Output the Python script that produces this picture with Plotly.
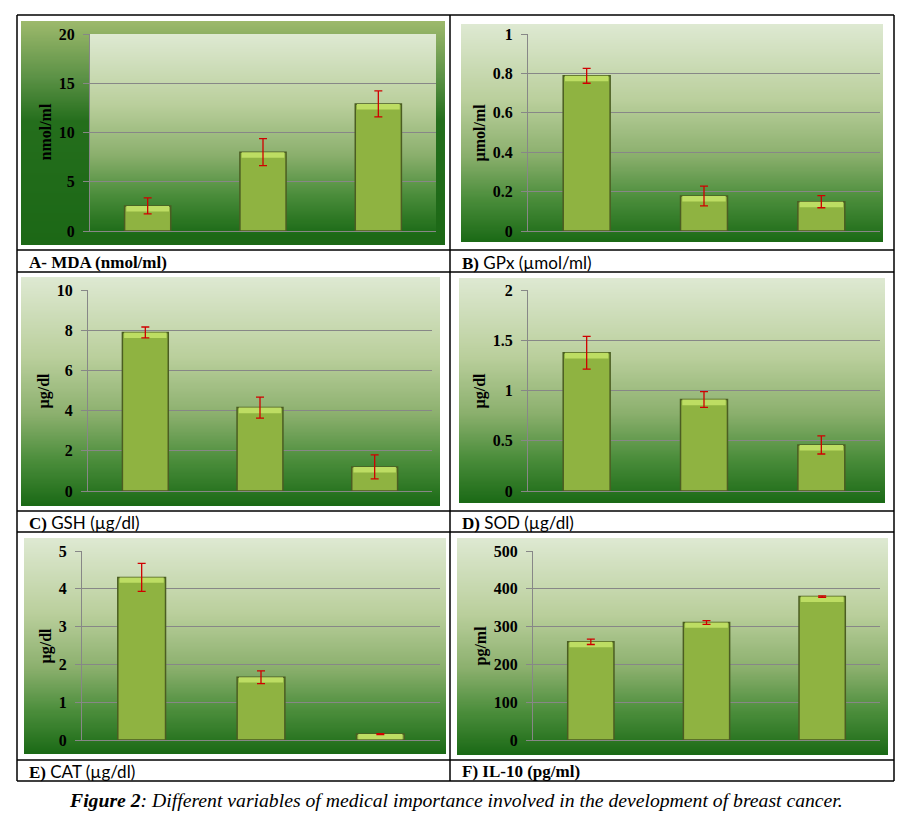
import base64
import struct
import zlib

import plotly.graph_objects as go

# --- data ---
groups = ["G1", "G2", "G3"]

mda = [2.55, 8.0, 12.9]
mda_err = [0.82, 1.37, 1.32]

gpx = [0.788, 0.178, 0.149]
gpx_err = [0.038, 0.05, 0.031]

gsh = [7.89, 4.15, 1.20]
gsh_err = [0.27, 0.52, 0.6]

sod = [1.375, 0.91, 0.458]
sod_err = [0.163, 0.078, 0.09]

cat = [4.30, 1.66, 0.158]
cat_err = [0.37, 0.17, 0.012]

il10 = [259.7, 310.7, 379.4]
il10_err = [7, 5, 2]

units = ["nmol/ml", "µmol/ml", "µg/dl", "µg/dl", "µg/dl", "pg/ml"]

SERIF = "Liberation Serif, Times New Roman, serif"

captions = [
    "<b>A- MDA (nmol/ml)</b>",
    "<b>B)</b> <span style='font-family:Lato'>GPx (µmol/ml)</span>",
    "<b>C)</b> <span style='font-family:Lato'>GSH (µg/dl)</span>",
    "<b>D)</b> <span style='font-family:Lato'>SOD (µg/dl)</span>",
    "<b>E)</b> <span style='font-family:Lato'>CAT (µg/dl)</span>",
    "<b>F) IL-10 (pg/ml)</b>",
]

# the page puts the figure 8px in from the window corner
OFF = 8
W, H = 907 - OFF, 819 - OFF


def px(x):
    return (x - OFF) / W


def py(y):
    return 1 - (y - OFF) / H


def gradient_uri(stops, n=200):
    # vertical gradient as a tiny PNG (top -> bottom)
    rows = []
    for i in range(n):
        t = i / (n - 1)
        for j in range(len(stops) - 1):
            t0, c0 = stops[j]
            t1, c1 = stops[j + 1]
            if t0 <= t <= t1:
                f = (t - t0) / (t1 - t0) if t1 > t0 else 0
                rows.append(tuple(int(round(c0[k] + (c1[k] - c0[k]) * f)) for k in range(3)))
                break
    raw = b"".join(b"\x00" + bytes(c) * 2 for c in rows)

    def chunk(tag, data):
        return struct.pack(">I", len(data)) + tag + data + struct.pack(">I", zlib.crc32(tag + data) & 0xFFFFFFFF)

    png = (b"\x89PNG\r\n\x1a\n"
           + chunk(b"IHDR", struct.pack(">IIBBBBB", 2, n, 8, 2, 0, 0, 0))
           + chunk(b"IDAT", zlib.compress(raw))
           + chunk(b"IEND", b""))
    return "data:image/png;base64," + base64.b64encode(png).decode()


light_grad = gradient_uri([
    (0.0, (222, 233, 210)),
    (0.35, (186, 207, 156)),
    (0.6, (140, 176, 110)),
    (0.8, (76, 142, 60)),
    (1.0, (27, 106, 22)),
])
dark_grad = gradient_uri([
    (0.0, (157, 185, 108)),
    (0.25, (92, 146, 70)),
    (0.45, (36, 110, 28)),
    (1.0, (28, 104, 22)),
])

# panel layout in window pixels: plot box (x0, x1, y0, y1), background box, axis title x, caption
panels = [
    dict(y=mda, err=mda_err, ymax=20, dtick=5, plot=(90, 436, 34, 231), bg=(21, 445, 21, 245), tx=45, cap=(27, 262)),
    dict(y=gpx, err=gpx_err, ymax=1, dtick=0.2, plot=(528, 880, 34, 231), bg=(461, 883, 24, 242), tx=480, cap=(460, 262)),
    dict(y=gsh, err=gsh_err, ymax=10, dtick=2, plot=(88, 432, 290, 491), bg=(21, 440, 277, 506), tx=43, cap=(27, 522)),
    dict(y=sod, err=sod_err, ymax=2, dtick=0.5, plot=(528, 880, 290, 491), bg=(459, 885, 278, 503), tx=479, cap=(460, 522)),
    dict(y=cat, err=cat_err, ymax=5, dtick=1, plot=(82, 440, 551, 740), bg=(24, 446, 538, 754), tx=45, cap=(27, 771)),
    dict(y=il10, err=il10_err, ymax=500, dtick=100, plot=(533, 880, 551, 740), bg=(457, 888, 538, 755), tx=480, cap=(460, 771)),
]

fig = go.Figure()
images = []
annotations = []
shapes = []

for i, p in enumerate(panels):
    n = "" if i == 0 else str(i + 1)
    xa, ya = "x" + n, "y" + n
    vals, errs, ymax = p["y"], p["err"], p["ymax"]

    fig.add_trace(go.Bar(
        x=groups, y=vals, xaxis=xa, yaxis=ya, width=0.4,
        marker=dict(color="#8fb341", line=dict(color="#4b5d22", width=1.5)),
        showlegend=False, hoverinfo="skip",
    ))
    # lighter bevel on top of each bar
    cap_h = 0.028 * ymax
    cap_base = [max(v - cap_h, 0) for v in vals]
    fig.add_trace(go.Bar(
        x=groups, y=[v - b for v, b in zip(vals, cap_base)], base=cap_base,
        xaxis=xa, yaxis=ya, width=0.37,
        marker=dict(color="#bddd63", line=dict(width=0)),
        showlegend=False, hoverinfo="skip",
    ))
    fig.add_trace(go.Scatter(
        x=groups, y=vals, xaxis=xa, yaxis=ya, mode="markers",
        marker=dict(color="rgba(0,0,0,0)", size=2),
        error_y=dict(type="data", array=errs, color="#d00000", thickness=1.3, width=4),
        showlegend=False, hoverinfo="skip",
    ))

    x0, x1, y0, y1 = p["plot"]
    fig.layout["xaxis" + n] = dict(
        domain=[px(x0), px(x1)], anchor=ya, range=[-0.5, 2.5],
        showticklabels=False, showgrid=False, zeroline=False,
        showline=True, linecolor="#878787", linewidth=1, ticks="",
        fixedrange=True, automargin=False,
    )
    fig.layout["yaxis" + n] = dict(
        domain=[py(y1), py(y0)], anchor=xa, range=[0, ymax], dtick=p["dtick"],
        showgrid=True, gridcolor="#878787", gridwidth=1, zeroline=False,
        showline=True, linecolor="#878787", linewidth=1,
        ticks="outside", ticklen=6, tickcolor="#878787", ticklabelstandoff=5,
        tickfont=dict(family=SERIF, size=16, color="black", weight="bold"),
        fixedrange=True, automargin=False,
    )

    bx0, bx1, by0, by1 = p["bg"]
    images.append(dict(
        source=dark_grad if i == 0 else light_grad, xref="paper", yref="paper",
        x=px(bx0), y=py(by0), sizex=px(bx1) - px(bx0), sizey=py(by0) - py(by1),
        sizing="stretch", layer="below", xanchor="left", yanchor="top",
    ))
    if i == 0:
        images.append(dict(
            source=light_grad, xref="paper", yref="paper",
            x=px(x0), y=py(y0), sizex=px(x1) - px(x0), sizey=py(y0) - py(y1 + 4),
            sizing="stretch", layer="below", xanchor="left", yanchor="top",
        ))

    annotations.append(dict(
        text="<b>" + units[i] + "</b>", xref="paper", yref="paper",
        x=px(p["tx"]), y=py((y0 + y1) / 2), textangle=-90, showarrow=False,
        xanchor="center", yanchor="middle",
        font=dict(family=SERIF, size=16, color="black"),
    ))
    cx, cy = p["cap"]
    annotations.append(dict(
        text=captions[i], xref="paper", yref="paper", x=px(cx), y=py(cy),
        xanchor="left", yanchor="middle", showarrow=False,
        font=dict(family=SERIF, size=17, color="black"),
    ))

annotations.append(dict(
    text="<b>Figure 2</b>: Different variables of medical importance involved in the development of breast cancer.",
    xref="paper", yref="paper", x=px(456), y=py(800), showarrow=False,
    xanchor="center", yanchor="middle",
    font=dict(family=SERIF, size=19.7, color="black", style="italic"),
))

# table borders
line = dict(color="black", width=1.5)
for yl in [15, 250, 272, 511, 532, 760, 781]:
    shapes.append(dict(type="line", xref="paper", yref="paper", x0=px(17), x1=px(894), y0=py(yl), y1=py(yl), line=line))
for xl in [17, 450, 894]:
    shapes.append(dict(type="line", xref="paper", yref="paper", x0=px(xl), x1=px(xl), y0=py(15), y1=py(781), line=line))

fig.update_layout(
    width=W, height=H, margin=dict(l=0, r=0, t=0, b=0, autoexpand=False),
    paper_bgcolor="white", plot_bgcolor="rgba(0,0,0,0)",
    barmode="overlay", images=images, annotations=annotations, shapes=shapes,
    showlegend=False,
)

fig.write_html("out.html")
